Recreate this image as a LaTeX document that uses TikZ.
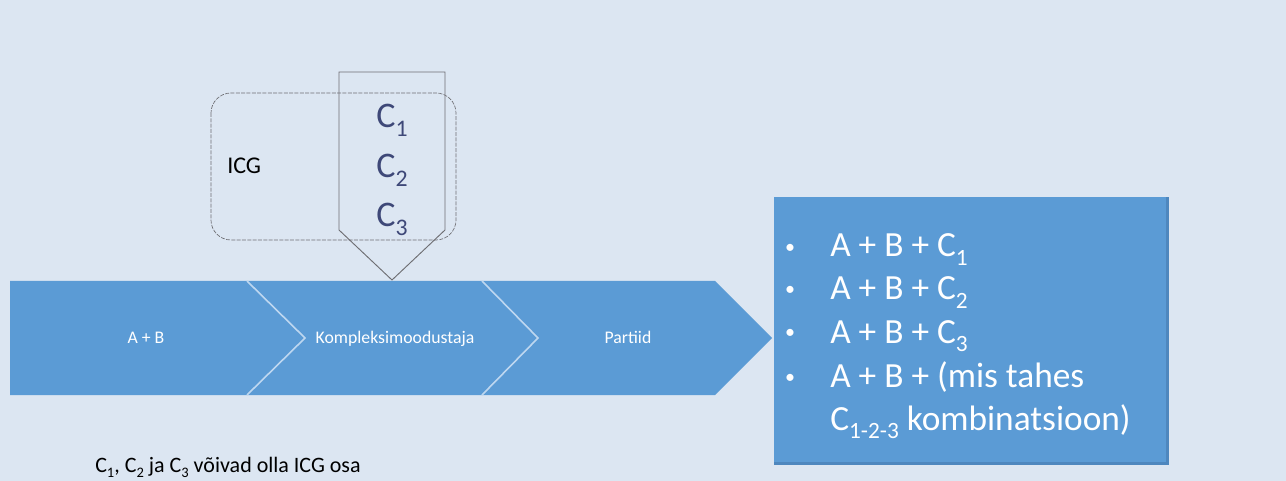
\documentclass[tikz,border=0pt]{standalone}
\usepackage{fontspec}
\setmainfont{Carlito}
\definecolor{pagebg}{RGB}{220,230,242}
\definecolor{flowblue}{RGB}{91,155,213}
\definecolor{flowedge}{RGB}{78,135,190}
\definecolor{sepline}{RGB}{190,215,240}
\definecolor{outlinegrey}{RGB}{110,110,115}
\definecolor{cink}{RGB}{62,72,120}
% lowered, reduced index
\newcommand\lowidx[1]{\raisebox{-0.25em}{\scalebox{0.66}{#1}}}
\tikzset{
  steplabel/.style={text=white, font=\fontsize{13.3}{15}\selectfont, anchor=base, inner sep=0pt},
  bulletline/.style={text=white, font=\fontsize{26.5}{30}\selectfont, anchor=base west, inner sep=0pt},
  bulletdot/.style={text=white, font=\fontsize{15}{18}\selectfont, anchor=base, inner sep=0pt},
  cstack/.style={text=cink, font=\fontsize{27}{32}\selectfont, anchor=base, inner sep=0pt},
}
\begin{document}
\begin{tikzpicture}[x=0.75pt,y=-0.75pt]
  % page
  \fill[pagebg] (0,0) rectangle (1286,481);
  \useasboundingbox (0,0) rectangle (1286,481);

  % process band with three chevron stages
  \fill[flowblue] (10,281) -- (715,281) -- (772,338) -- (715,395) -- (10,395) -- cycle;
  \draw[sepline, line width=1.2pt] (247,281) -- (305,338) -- (247,395);
  \draw[sepline, line width=1.2pt] (482,281) -- (538,338) -- (482,395);
  \node[steplabel] (ab)   at (146,343) {A + B};
  \node[steplabel] (komp) at (395,343) {Kompleksimoodustaja};
  \node[steplabel] (part) at (628,343) {Partiid};

  % ICG group (dashed rounded frame)
  \draw[outlinegrey, dashed, dash pattern=on 3pt off 1pt, line width=0.5pt, rounded corners=15pt]
    (211,93) rectangle (456,240);
  \node[anchor=base west, inner sep=0pt, font=\fontsize{18}{21}\selectfont] (icg) at (227,174) {ICG};

  % down-pointing pentagon holding C1..C3
  \draw[outlinegrey, line width=0.7pt]
    (339,72) -- (445,72) -- (445,230) -- (392,280) -- (339,230) -- cycle;
  \node[cstack] (c1) at (392,128) {C\lowidx{1}};
  \node[cstack] (c2) at (392,178) {C\lowidx{2}};
  \node[cstack] (c3) at (392,227) {C\lowidx{3}};

  % result box
  \fill[flowedge] (774,197) rectangle (1169,465);
  \fill[flowblue] (774,197) rectangle (1166,462);
  \foreach \yy/\nm in {257/b1,300/b2,343/b3,387/b4}
    \node[bulletdot] (\nm) at (790,\yy-4) {•};
  \node[bulletline] (r1) at (830,257) {A + B + C\lowidx{1}};
  \node[bulletline] (r2) at (830,300) {A + B + C\lowidx{2}};
  \node[bulletline] (r3) at (830,343) {A + B + C\lowidx{3}};
  \node[bulletline] (r4) at (830,387) {A + B + (mis tahes};
  \node[bulletline] (r5) at (830,430) {C\lowidx{1-2-3} kombinatsioon)};

  % footnote
  \node[anchor=base west, inner sep=0pt, font=\fontsize{16.5}{19}\selectfont] (note) at (95,472)
    {C\lowidx{1}, C\lowidx{2} ja C\lowidx{3} võivad olla ICG osa};
\end{tikzpicture}
\end{document}
